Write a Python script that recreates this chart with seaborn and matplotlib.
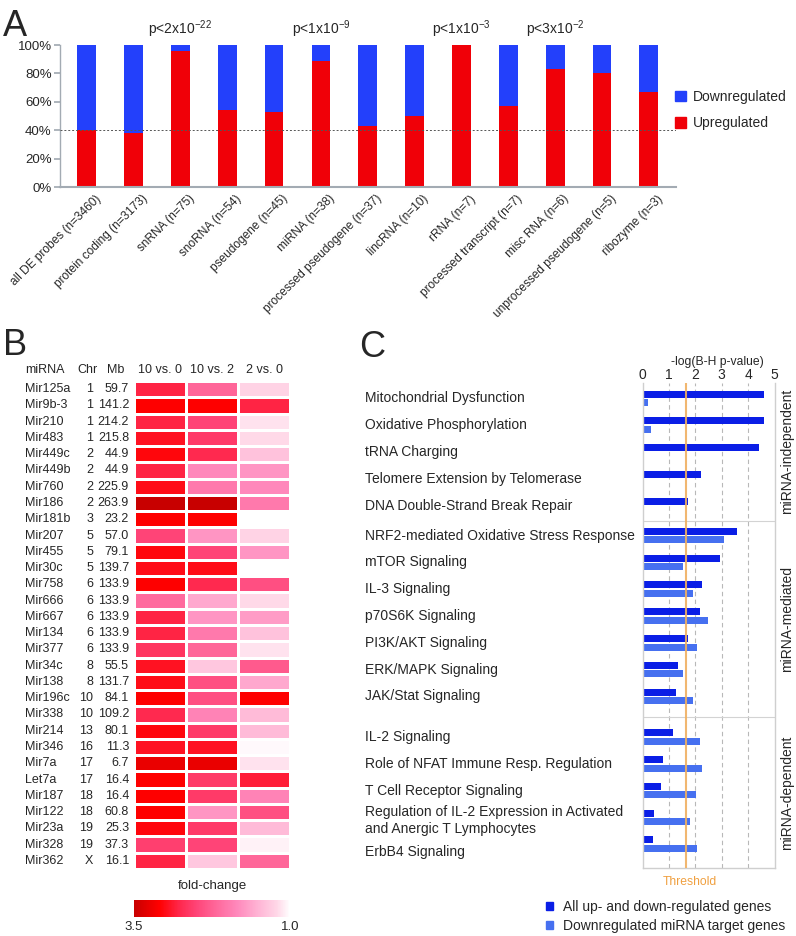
import numpy as np
import pandas as pd
import matplotlib
matplotlib.use("Agg")
import matplotlib.pyplot as plt
import seaborn as sns
from matplotlib.colors import LinearSegmentedColormap
from matplotlib.patches import Patch
import matplotlib.transforms as mtransforms

sns.set_theme(style="white")
plt.rcParams['font.family'] = ['Liberation Sans', 'DejaVu Sans']
plt.rcParams['mathtext.fontset'] = 'custom'
plt.rcParams['mathtext.rm'] = 'Liberation Sans'
plt.rcParams['mathtext.it'] = 'Liberation Sans:italic'
plt.rcParams['mathtext.bf'] = 'Liberation Sans:bold'

# ---------------- Panel A data ----------------
biotypes = ["all DE probes (n=3460)", "protein coding (n=3173)", "snRNA (n=75)",
            "snoRNA (n=54)", "pseudogene (n=45)", "miRNA (n=38)",
            "processed pseudogene (n=37)", "lincRNA (n=10)", "rRNA (n=7)",
            "processed transcript (n=7)", "misc RNA (n=6)",
            "unprocessed pseudogene (n=5)", "ribozyme (n=3)"]
up_pct = [40, 38, 96, 54, 53, 89, 43, 50, 100, 57, 83, 80, 67]
total_pct = [100] * len(biotypes)
p_cats = ["snRNA (n=75)", "miRNA (n=38)", "rRNA (n=7)", "misc RNA (n=6)"]
p_texts = [r"p<2x10$^{-22}$", r"p<1x10$^{-9}$", r"p<1x10$^{-3}$", r"p<3x10$^{-2}$"]
ref_line_pct = 40

# ---------------- Panel B data ----------------
mirna = ["Mir125a", "Mir9b-3", "Mir210", "Mir483", "Mir449c", "Mir449b", "Mir760",
         "Mir186", "Mir181b", "Mir207", "Mir455", "Mir30c", "Mir758", "Mir666",
         "Mir667", "Mir134", "Mir377", "Mir34c", "Mir138", "Mir196c", "Mir338",
         "Mir214", "Mir346", "Mir7a", "Let7a", "Mir187", "Mir122", "Mir23a",
         "Mir328", "Mir362"]
chrom = ["1", "1", "1", "1", "2", "2", "2", "2", "3", "5", "5", "5", "6", "6", "6",
         "6", "6", "8", "8", "10", "10", "13", "16", "17", "17", "18", "18", "19",
         "19", "X"]
mb = ["59.7", "141.2", "214.2", "215.8", "44.9", "44.9", "225.9", "263.9", "23.2",
      "57.0", "79.1", "139.7", "133.9", "133.9", "133.9", "133.9", "133.9", "55.5",
      "131.7", "84.1", "109.2", "80.1", "11.3", "6.7", "16.4", "16.4", "60.8",
      "25.3", "37.3", "16.1"]
fc_10v0 = [2.8, 3.1, 2.8, 2.95, 3.05, 2.8, 3.0, 3.5, 3.1, 2.5, 3.05, 3.0, 3.1, 2.15,
           2.8, 2.8, 2.65, 2.95, 3.0, 3.1, 2.75, 3.05, 2.95, 3.25, 3.1, 3.1, 3.1,
           3.05, 2.55, 2.8]
fc_10v2 = [2.2, 3.1, 2.5, 2.6, 2.75, 1.85, 2.0, 3.5, 3.1, 1.75, 2.5, 3.0, 2.75, 1.6,
           1.75, 2.0, 2.2, 1.35, 2.4, 2.4, 1.9, 2.6, 2.95, 3.25, 2.6, 2.6, 1.75,
           2.6, 2.5, 1.35]
fc_2v0 = [1.25, 2.8, 1.15, 1.2, 1.4, 1.75, 1.85, 2.0, 1.0, 1.25, 1.75, 1.0, 2.4, 1.2,
          1.7, 1.4, 1.15, 2.3, 1.6, 3.1, 1.45, 1.45, 1.03, 1.15, 2.85, 1.9, 2.4,
          1.45, 1.07, 2.2]
contrasts = ["10 vs. 0", "10 vs. 2", "2 vs. 0"]

# ---------------- Panel C data ----------------
pathways = ["Mitochondrial Dysfunction", "Oxidative Phosphorylation", "tRNA Charging",
            "Telomere Extension by Telomerase", "DNA Double-Strand Break Repair",
            "NRF2-mediated Oxidative Stress Response", "mTOR Signaling", "IL-3 Signaling",
            "p70S6K Signaling", "PI3K/AKT Signaling", "ERK/MAPK Signaling",
            "JAK/Stat Signaling", "IL-2 Signaling", "Role of NFAT Immune Resp. Regulation",
            "T Cell Receptor Signaling",
            "Regulation of IL-2 Expression in Activated\nand Anergic T Lymphocytes",
            "ErbB4 Signaling"]
pathway_group = [0, 0, 0, 0, 0, 1, 1, 1, 1, 1, 1, 1, 2, 2, 2, 2, 2]
group_names = ["miRNA-independent", "miRNA-mediated", "miRNA-dependent"]
all_genes = [4.6, 4.6, 4.4, 2.2, 1.72, 3.57, 2.93, 2.24, 2.18, 1.72, 1.33, 1.27,
             1.16, 0.77, 0.70, 0.42, 0.41]
mirna_targets = [0.2, 0.32, np.nan, np.nan, np.nan, 3.09, 1.55, 1.92, 2.47, 2.08, 1.53,
                 1.92, 2.16, 2.26, 2.02, 1.81, 2.08]
threshold = 1.63

# ---------------- styling ----------------
W, H = 796, 936
fig = plt.figure(figsize=(W / 100, H / 100), dpi=100)

def px_axes(l, t, r, b):
    return fig.add_axes([l / W, 1 - b / H, (r - l) / W, (b - t) / H])

BLUE = "#2340fb"
RED = "#f00008"
DARK = "#0a1ee6"
LIGHT = "#4670f0"
GRAY = "#a3abb3"

# ================= Panel A =================
axA = px_axes(60, 45, 676, 187)
dfA = pd.DataFrame({"biotype": biotypes, "up": up_pct, "total": total_pct})
sns.barplot(data=dfA, x="biotype", y="total", color=BLUE, width=0.4, saturation=1,
            errorbar=None, linewidth=0, ax=axA)
sns.barplot(data=dfA, x="biotype", y="up", color=RED, width=0.4, saturation=1,
            errorbar=None, linewidth=0, ax=axA)
axA.set_xlim(-0.57, 12.58)
axA.set_ylim(0, 100)
axA.set_xlabel("")
axA.set_ylabel("")
axA.set_yticks([0, 20, 40, 60, 80, 100])
axA.set_yticklabels([f"{v}%" for v in [0, 20, 40, 60, 80, 100]], fontsize=9.5)
axA.axhline(ref_line_pct, color="#555555", lw=0.7, ls=(0, (2, 2)), zorder=5)
for s in ["top", "right"]:
    axA.spines[s].set_visible(False)
axA.spines["left"].set_color(GRAY)
axA.spines["bottom"].set_color(GRAY)
axA.spines["left"].set_linewidth(1.0)
axA.spines["bottom"].set_linewidth(1.5)
axA.tick_params(axis="y", length=4, color=GRAY, pad=2, left=True)
axA.tick_params(axis="x", length=0, pad=2)
offset = mtransforms.ScaledTranslation(8 / 100, -3 / 100, fig.dpi_scale_trans)
for lab in axA.get_xticklabels():
    lab.set_rotation(45)
    lab.set_ha("right")
    lab.set_va("top")
    lab.set_rotation_mode("anchor")
    lab.set_fontsize(8.6)
    lab.set_transform(lab.get_transform() + offset)
for cat, txt in zip(p_cats, p_texts):
    axA.text(biotypes.index(cat), 107.5, txt, ha="center", va="baseline", fontsize=10,
             clip_on=False)
axA.legend(handles=[Patch(color=BLUE, label="Downregulated"),
                    Patch(color=RED, label="Upregulated")],
           loc="center left", bbox_to_anchor=(675 / W, 1 - 110 / H),
           bbox_transform=fig.transFigure, frameon=False, fontsize=10,
           handlelength=0.8, handleheight=0.8, handletextpad=0.5,
           labelspacing=0.87, borderpad=0, borderaxespad=0)

# ================= Panel B =================
cmap = LinearSegmentedColormap.from_list(
    "fc", [(0.0, "#ffffff"), (0.08, "#ffd8e8"), (0.2, "#ffb5d5"), (0.34, "#ff88bb"),
           (0.48, "#ff6699"), (0.6, "#ff4477"), (0.7, "#ff2a50"), (0.84, "#ff0000"),
           (1.0, "#c80000")])
axB = px_axes(134, 381, 290, 869)
caxB = px_axes(134, 900, 290, 917)
dfB = pd.DataFrame({contrasts[0]: fc_10v0, contrasts[1]: fc_10v2, contrasts[2]: fc_2v0},
                   index=mirna)
sns.heatmap(dfB, cmap=cmap, vmin=1.0, vmax=3.5, linewidths=0.8, linecolor="white",
            ax=axB, cbar_ax=caxB, xticklabels=False, yticklabels=False,
            cbar_kws={"orientation": "horizontal", "ticks": [3.5, 1.0]})
axB.set_xlabel("")
axB.set_ylabel("")
caxB.invert_xaxis()
caxB.tick_params(length=0, labelsize=9.5, pad=3)
caxB.set_xticklabels(["3.5", "1.0"])
for s in caxB.spines.values():
    s.set_visible(False)
try:
    axB.collections[0].colorbar.outline.set_visible(False)
except Exception:
    pass
fig.text(212 / W, 1 - 886 / H, "fold-change", ha="center", va="center", fontsize=9.5)

trB = mtransforms.blended_transform_factory(axB.transAxes, axB.transData)
xname = (25 - 134) / 156
xchr = (93 - 134) / 156
xmb = (129 - 134) / 156
for i, (n, c, m) in enumerate(zip(mirna, chrom, mb)):
    axB.text(xname, i + 0.5, n, transform=trB, ha="left", va="center", fontsize=9)
    axB.text(xchr, i + 0.5, c, transform=trB, ha="right", va="center", fontsize=9)
    axB.text(xmb, i + 0.5, m, transform=trB, ha="right", va="center", fontsize=9)
hy = -0.68
axB.text(xname, hy, "miRNA", transform=trB, ha="left", va="center", fontsize=9)
axB.text((87 - 134) / 156, hy, "Chr", transform=trB, ha="center", va="center", fontsize=9)
axB.text((115.5 - 134) / 156, hy, "Mb", transform=trB, ha="center", va="center", fontsize=9)
for j, c in enumerate(contrasts):
    axB.text(j + 0.5, hy, c, ha="center", va="center", fontsize=9)

# ================= Panel C =================
axC = px_axes(642.5, 383, 774.5, 868)
group_offset = [0.0, 0.12, 0.63]
ypos = np.array([i + group_offset[g] for i, g in enumerate(pathway_group)], dtype=float)
label_dy = np.zeros(len(pathways))
label_dy[15] = 0.12
label_dy[16] = 0.3
off = 0.16
bh = 0.26
axC.barh(ypos - off, all_genes, height=bh, color=DARK, linewidth=0, zorder=2)
axC.barh(ypos + off, np.nan_to_num(mirna_targets), height=bh, color=LIGHT, linewidth=0,
         zorder=2)
top_pad, bot_pad = 0.575, 0.89
axC.set_xlim(0, 5)
axC.set_ylim(ypos[-1] + bot_pad, ypos[0] - top_pad)
axC.xaxis.tick_top()
axC.set_xticks([0, 1, 2, 3, 4, 5])
axC.set_xticklabels(["0", "1", "2", "3", "4", "5"], fontsize=10)
axC.tick_params(axis="x", length=0, pad=1)
axC.set_yticks([])
for v in [1, 2, 3, 4]:
    axC.axvline(v, color="#b8b8b8", lw=0.8, ls=(0, (4, 3)), zorder=0)
axC.axvline(threshold, color="#f0b060", lw=1.5, alpha=0.9, zorder=3)
for s in ["left", "right", "bottom"]:
    axC.spines[s].set_color("#cfcfcf")
    axC.spines[s].set_linewidth(1.0)
axC.spines["top"].set_visible(False)

n_groups = len(group_names)
seps = []
for g in range(n_groups - 1):
    last = ypos[[i for i, gg in enumerate(pathway_group) if gg == g][-1]]
    first = ypos[[i for i, gg in enumerate(pathway_group) if gg == g + 1][0]]
    seps.append((last + first) / 2)
for s in seps:
    axC.axhline(s, color="#d3d3d3", lw=0.8, zorder=1)
bounds = [ypos[0] - top_pad] + seps + [ypos[-1] + bot_pad]
trC = mtransforms.blended_transform_factory(axC.transAxes, axC.transData)
for g, name in enumerate(group_names):
    axC.text((787 - 642.5) / 132, (bounds[g] + bounds[g + 1]) / 2, name,
             transform=trC, rotation=90, ha="center", va="center", fontsize=10)

for y, dy, name in zip(ypos, label_dy, pathways):
    axC.text((365 - 642.5) / 132, y + dy, name, transform=trC, ha="left", va="center",
             fontsize=10, linespacing=1.25)

fig.text(717 / W, 1 - 362 / H, "-log(B-H p-value)", ha="center", va="center", fontsize=8.7)
fig.text(690 / W, 1 - 882 / H, "Threshold", ha="center", va="center", fontsize=8.7,
         color="#f0a040")
fig.legend(handles=[Patch(color=DARK, label="All up- and down-regulated genes"),
                    Patch(color=LIGHT, label="Downregulated miRNA target genes")],
           loc="center left", bbox_to_anchor=(545.5 / W, 1 - 916.5 / H),
           frameon=False, fontsize=10, handlelength=0.55, handleheight=0.55,
           handletextpad=0.7, labelspacing=0.33, borderpad=0, borderaxespad=0)

# panel letters
fig.text(3 / W, 1 - 36 / H, "A", fontsize=26, ha="left", va="baseline")
fig.text(3 / W, 1 - 355 / H, "B", fontsize=26, ha="left", va="baseline")
fig.text(359 / W, 1 - 357 / H, "C", fontsize=26, ha="left", va="baseline")

fig.savefig("out.png", dpi=100)
